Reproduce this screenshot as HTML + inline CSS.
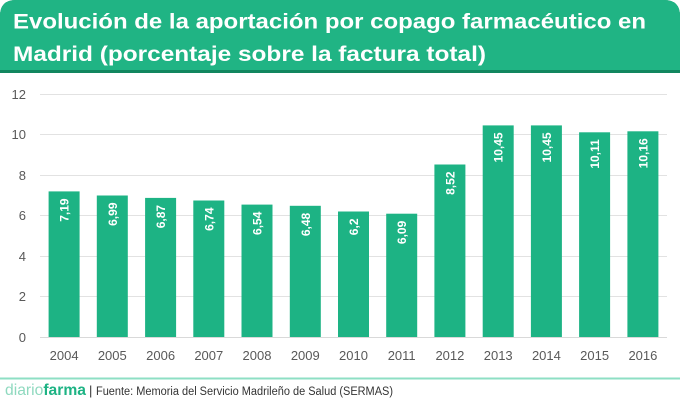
<!DOCTYPE html>
<html><head><meta charset="utf-8"><style>
html,body{margin:0;padding:0;background:#fff;}
svg{display:block;}
</style></head><body>
<svg width="680" height="400" viewBox="0 0 680 400" xmlns="http://www.w3.org/2000/svg" font-family="'Liberation Sans', sans-serif">
<rect x="0" y="0" width="680" height="400" fill="#fff"/>
<!-- header -->
<path d="M0,73 L0,16 Q0,0 16,0 L664,0 Q680,0 680,16 L680,73 Z" fill="#11875f"/>
<path d="M0,70 L0,16 Q0,0 16,0 L664,0 Q680,0 680,16 L680,70 Z" fill="#20b484"/>
<text x="13" y="28.5" font-size="21" font-weight="bold" fill="#fff" textLength="633" lengthAdjust="spacingAndGlyphs">Evolución de la aportación por copago farmacéutico en</text>
<text x="13" y="61" font-size="21" font-weight="bold" fill="#fff" textLength="473" lengthAdjust="spacingAndGlyphs">Madrid (porcentaje sobre la factura total)</text>
<!-- gridlines -->
<g stroke="#e2e2e2" stroke-width="1">
<line x1="40" x2="667" y1="94.5" y2="94.5"/>
<line x1="40" x2="667" y1="134.5" y2="134.5"/>
<line x1="40" x2="667" y1="175.5" y2="175.5"/>
<line x1="40" x2="667" y1="215.5" y2="215.5"/>
<line x1="40" x2="667" y1="256.5" y2="256.5"/>
<line x1="40" x2="667" y1="296.5" y2="296.5"/>
<line x1="40" x2="667" y1="337.5" y2="337.5" stroke="#d9d9d9"/>
</g>
<g font-size="13" fill="#595959" text-anchor="end">
<text x="26" y="99">12</text>
<text x="26" y="139">10</text>
<text x="26" y="180">8</text>
<text x="26" y="220">6</text>
<text x="26" y="261">4</text>
<text x="26" y="301">2</text>
<text x="26" y="342">0</text>
</g>
<!-- bars -->
<g fill="#1db384">
<rect x="48.6" y="191.4" width="31" height="145.6"/>
<rect x="96.8" y="195.5" width="31" height="141.5"/>
<rect x="145.1" y="197.9" width="31" height="139.1"/>
<rect x="193.3" y="200.5" width="31" height="136.5"/>
<rect x="241.5" y="204.6" width="31" height="132.4"/>
<rect x="289.8" y="205.8" width="31" height="131.2"/>
<rect x="338.0" y="211.5" width="31" height="125.5"/>
<rect x="386.2" y="213.7" width="31" height="123.3"/>
<rect x="434.4" y="164.5" width="31" height="172.5"/>
<rect x="482.7" y="125.4" width="31" height="211.6"/>
<rect x="530.9" y="125.4" width="31" height="211.6"/>
<rect x="579.1" y="132.3" width="31" height="204.7"/>
<rect x="627.4" y="131.3" width="31" height="205.7"/>
</g>
<g font-size="12" font-weight="bold" fill="#fff" text-anchor="end">
<text x="68.6" y="198.4" transform="rotate(-90 68.6 198.4)">7,19</text>
<text x="116.8" y="202.5" transform="rotate(-90 116.8 202.5)">6,99</text>
<text x="165.1" y="204.9" transform="rotate(-90 165.1 204.9)">6,87</text>
<text x="213.3" y="207.5" transform="rotate(-90 213.3 207.5)">6,74</text>
<text x="261.5" y="211.6" transform="rotate(-90 261.5 211.6)">6,54</text>
<text x="309.8" y="212.8" transform="rotate(-90 309.8 212.8)">6,48</text>
<text x="358.0" y="218.5" transform="rotate(-90 358.0 218.5)">6,2</text>
<text x="406.2" y="220.7" transform="rotate(-90 406.2 220.7)">6,09</text>
<text x="454.4" y="171.5" transform="rotate(-90 454.4 171.5)">8,52</text>
<text x="502.7" y="132.4" transform="rotate(-90 502.7 132.4)">10,45</text>
<text x="550.9" y="132.4" transform="rotate(-90 550.9 132.4)">10,45</text>
<text x="599.1" y="139.3" transform="rotate(-90 599.1 139.3)">10,11</text>
<text x="647.4" y="138.3" transform="rotate(-90 647.4 138.3)">10,16</text>
</g>
<g font-size="13" fill="#595959" text-anchor="middle">
<text x="64.1" y="360">2004</text>
<text x="112.3" y="360">2005</text>
<text x="160.6" y="360">2006</text>
<text x="208.8" y="360">2007</text>
<text x="257.0" y="360">2008</text>
<text x="305.3" y="360">2009</text>
<text x="353.5" y="360">2010</text>
<text x="401.7" y="360">2011</text>
<text x="449.9" y="360">2012</text>
<text x="498.2" y="360">2013</text>
<text x="546.4" y="360">2014</text>
<text x="594.6" y="360">2015</text>
<text x="642.9" y="360">2016</text>
</g>
<!-- footer -->
<rect x="0" y="377.5" width="680" height="2" fill="#8edfc4"/>
<text x="5" y="395" font-size="16" textLength="81" lengthAdjust="spacingAndGlyphs"><tspan fill="#8fd9bf">diario</tspan><tspan fill="#1db384" font-weight="bold">farma</tspan></text>
<text x="89" y="395" font-size="13" fill="#333">|</text>
<text x="96" y="395" font-size="11.5" fill="#333" textLength="297" lengthAdjust="spacingAndGlyphs">Fuente:  Memoria del Servicio Madrileño de Salud (SERMAS)</text>
</svg>
</body></html>
